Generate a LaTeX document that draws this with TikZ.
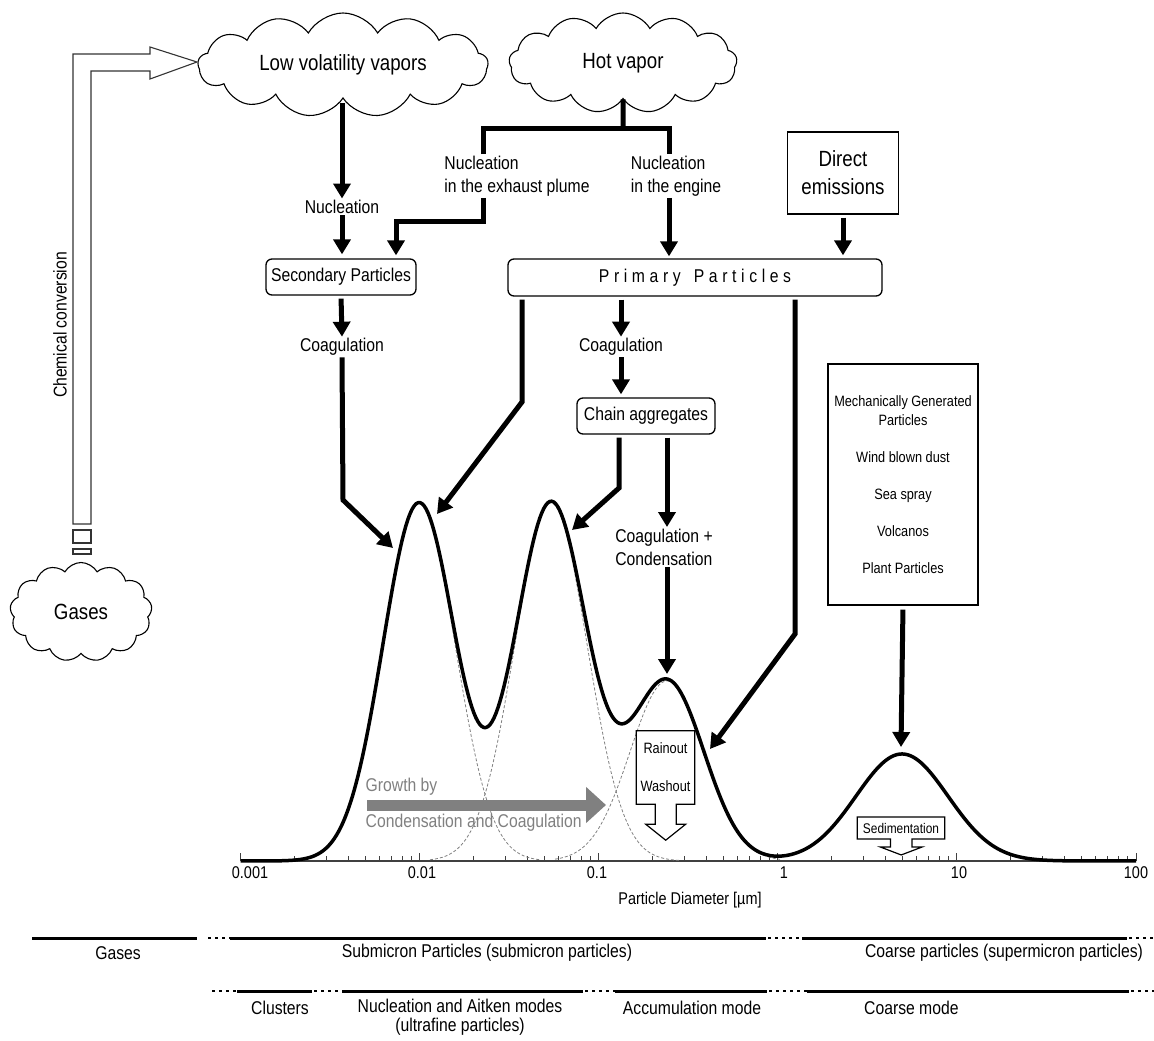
\documentclass[tikz,border=0pt]{standalone}
\usepackage{fontspec}
\setmainfont{Liberation Sans}[FakeStretch=0.85]
\usepackage{tikz}
\usetikzlibrary{arrows.meta,positioning,shapes.symbols}

\definecolor{growthgray}{RGB}{128,128,128}
\tikzset{
	cloudnode/.style={cloud,draw,line width=1.1pt,cloud puffs=13,cloud puff arc=120,cloud ignores aspect,inner sep=0pt,font=\fontsize{22}{26}\selectfont},
	lbl/.style={inner sep=1.5pt,align=left,font=\fontsize{18.5}{23}\selectfont},
	pbox/.style={draw,line width=1.3pt,rounded corners=6pt,minimum height=36pt,inner sep=2pt,font=\fontsize{18.5}{22}\selectfont},
	flow/.style={line width=5pt,-{Triangle[length=15pt,width=17pt]}},
	hotline/.style={line width=5pt},
	ticklbl/.style={inner sep=0pt,font=\fontsize{17}{20}\selectfont},
	bandtxt/.style={inner sep=0pt,align=center,font=\fontsize{18.5}{19}\selectfont},
	band/.style={line width=3pt},
	banddots/.style={line width=2.5pt,dash pattern=on 2.5pt off 4.5pt},
	mode/.style={gray,line width=0.8pt,dash pattern=on 3pt off 2pt}
}

\begin{document}
\begin{tikzpicture}[x=1pt,y=-1pt,
	declare function={gs(\u,\m,\s)=exp(-min(((\u-\m)/\s)*((\u-\m)/\s)/2,15));}]
	\useasboundingbox (0,0) rectangle (1154,1041);

	% sources
	\node[cloudnode,minimum width=290pt,minimum height=104pt] (lowvap) at (343,65) {Low volatility vapors};
	\node[cloudnode,minimum width=228pt,minimum height=100pt] (hotvap) at (623,63) {Hot vapor};
	\node[cloudnode,minimum width=142pt,minimum height=99pt] (gases) at (81,612) {Gases};
	\node[draw,line width=1.3pt,minimum width=111pt,minimum height=82pt,align=center,font=\fontsize{22}{28}\selectfont] (direct) at (843,173) {Direct\\emissions};

	% chemical conversion (hollow arrow)
	\draw[line width=1.1pt,black!80] (73,524) -- (73,54) -- (150,54) -- (150,47) -- (197,62) -- (150,79) -- (150,71) -- (91,71) -- (91,524) -- cycle;
	\draw[line width=1.1pt,black!80] (73,530) rectangle (91,543);
	\draw[line width=1.1pt,black!80] (73,549) rectangle (91,554);
	\node[rotate=90,inner sep=0pt,font=\fontsize{18.5}{20}\selectfont] (chem) at (60,325) {Chemical conversion};

	% labels and boxes
	\node[lbl] (nuc) at (342,207) {Nucleation};
	\node[lbl] (nucplume) at (517,176) {Nucleation\\in the exhaust plume};
	\node[lbl] (nucengine) at (676,176) {Nucleation\\in the engine};
	\node[pbox,minimum width=150pt] (secbox) at (341,277) {Secondary Particles};
	\node[pbox,minimum width=374pt,minimum height=37pt] (primbox) at (695,277.5) {\addfontfeature{LetterSpace=25}Primary\hspace{13pt}Particles};
	\node[lbl] (coagA) at (342,347) {Coagulation};
	\node[lbl] (coagB) at (621,347) {Coagulation};
	\node[pbox,minimum width=138pt] (chain) at (646,416) {Chain aggregates};
	\node[lbl] (coagcond) at (664,547) {Coagulation +\\Condensation};
	\node[draw,line width=1.2pt,minimum width=150pt,minimum height=241pt,align=center,font=\fontsize{15}{19}\selectfont] (mech) at (903,484.5) {Mechanically Generated\\Particles\\[18pt]Wind blown dust\\[18pt]Sea spray\\[18pt]Volcanos\\[18pt]Plant Particles};

	% bend points and tips at the curve
	\coordinate (hv) at (623,128);
	\coordinate (pl) at (396,221);
	\coordinate (bA) at (343,500);
	\coordinate (tA) at (393,548);
	\coordinate (bB) at (522,402);
	\coordinate (tB) at (437,514);
	\coordinate (bC) at (619,488);
	\coordinate (tC) at (572,530);
	\coordinate (bD) at (795,634);
	\coordinate (tD) at (710,749);
	\coordinate (pk3) at (667,674);
	\coordinate (pk4) at (901,747);

	% connectors
	\draw[flow,shorten <=4pt] (nuc.north |- lowvap.south) -- (nuc.north);
	\draw[flow,shorten >=4pt] (nuc.south) -- (nuc.south |- secbox.north);
	\draw[hotline] (hotvap.south) -- (hv);
	\draw[hotline] ([xshift=-34pt]nucplume.north) |- (hv) -| ([xshift=-7pt]nucengine.north);
	\draw[flow,shorten >=3pt] ([xshift=-34pt]nucplume.south) |- (pl) -- (pl |- secbox.north);
	\draw[flow,shorten >=2pt] ([xshift=-7pt]nucengine.south) -- ([xshift=-7pt]nucengine.south |- primbox.north);
	\draw[flow,shorten <=3pt,shorten >=3pt] (direct.south) -- (direct.south |- primbox.north);
	\draw[flow,shorten <=3pt] (secbox.south) -- (coagA.north);
	\draw[flow] (coagA.south) -- (bA) -- (tA);
	\draw[flow,shorten <=3pt] (bB |- primbox.south) -- (bB) -- (tB);
	\draw[flow,shorten <=3pt] (coagB.north |- primbox.south) -- (coagB.north);
	\draw[flow,shorten >=3pt] (coagB.south) -- (coagB.south |- chain.north);
	\draw[flow,shorten <=3pt] (bC |- chain.south) -- (bC) -- (tC);
	\draw[flow,shorten <=3pt] (pk3 |- chain.south) -- (pk3 |- coagcond.north);
	\draw[flow] (pk3 |- coagcond.south) -- (pk3);
	\draw[flow,shorten <=3pt] (bD |- primbox.south) -- (bD) -- (tD);
	\draw[flow,shorten <=4pt] (mech.south) -- (pk4);

	% size distribution
	\draw[line width=1.2pt,black!75] (240.6,861) -- (1136,861);
	\foreach \d in {0,...,4}{
		\draw[line width=1pt,black!75] (240.6+179*\d,861) -- ++(0,-8);
		\foreach \m in {2,...,9}
			\draw[line width=0.8pt,black!75] ({240.6+179*(\d+log10(\m))},861) -- ++(0,-5);
	}
	\draw[line width=1pt,black!75] (1136,861) -- ++(0,-8);
	\draw[mode] plot[domain=300:540,samples=120] (\x,{861-358*gs(\x,419,36)});
	\draw[mode] plot[domain=430:680,samples=120] (\x,{861-358*gs(\x,551,36)});
	\draw[mode] plot[domain=555:780,samples=120] (\x,{861-180*gs(\x,667,37)});
	\draw[line width=3.5pt,line join=round] plot[domain=240.6:1136,samples=450] (\x,{861-358*gs(\x,419,36)-358*gs(\x,551,36)-180*gs(\x,667,37)-107*gs(\x,902,46)});

	\foreach \v/\px in {0.001/250,0.01/422,0.1/597,1/784,10/959,100/1136}
		\node[ticklbl] at (\px,873) {\v};
	\node[ticklbl] (xlabel) at (690,900) {Particle Diameter [µm]};

	% growth arrow
	\draw[growthgray,line width=11pt,-{Triangle[length=20pt,width=35pt]}] (367,805) -- (606,805);
	\node[lbl,text=growthgray,anchor=west] (growA) at (364,787) {Growth by};
	\node[lbl,text=growthgray,anchor=west] (growB) at (364,823) {Condensation and Coagulation};

	% removal
	\node[inner sep=0pt,minimum width=58pt,minimum height=73pt,align=center,font=\fontsize{15}{38}\selectfont] (rain) at (665.5,767.5) {Rainout\\Washout};
	\draw[line width=1.2pt] (rain.south west) -- (rain.north west) -- (rain.north east) -- (rain.south east) -- ++(-18.5,0) -- ++(0,20) -- ++(9.5,0) -- ++(-20,16) -- ++(-20,-16) -- ++(9.5,0) -- ++(0,-20) -- cycle;
	\node[inner sep=0pt,minimum width=87pt,minimum height=21.5pt,font=\fontsize{14}{16}\selectfont] (sed) at (901,828) {Sedimentation};
	\draw[line width=1.2pt] (sed.south west) -- (sed.north west) -- (sed.north east) -- (sed.south east) -- ++(-32.75,0) -- ++(0,8) -- ++(10.25,0) -- ++(-21,8) -- ++(-21,-8) -- ++(10.25,0) -- ++(0,-8) -- cycle;

	% size ranges
	\draw[band] (32,938) -- (197,938);
	\draw[banddots] (208,938) -- (230,938);
	\draw[band] (230,938) -- (766,938);
	\draw[banddots] (768,938) -- (802,938);
	\draw[band] (802,938) -- (1127,938);
	\draw[banddots] (1129,938) -- (1154,938);
	\node[bandtxt] (gasrange) at (118,953) {Gases};
	\node[bandtxt] (subrange) at (487,953) {Submicron Particles (submicron particles)};
	\node[bandtxt] (coarserange) at (1004,953) {Coarse particles (supermicron particles)};

	\draw[banddots] (212,991) -- (237,991);
	\draw[band] (237,991) -- (312,991);
	\draw[banddots] (314,991) -- (342,991);
	\draw[band] (342,991) -- (583,991);
	\draw[banddots] (585,991) -- (615,991);
	\draw[band] (615,991) -- (767,991);
	\draw[banddots] (769,991) -- (807,991);
	\draw[band] (807,991) -- (1129,991);
	\draw[banddots] (1131,991) -- (1154,991);
	\node[bandtxt] (clusters) at (280,1008) {Clusters};
	\node[bandtxt,anchor=north] (aitken) at (460,999) {Nucleation and Aitken modes\\(ultrafine particles)};
	\node[bandtxt] (accum) at (692,1008) {Accumulation mode};
	\node[bandtxt,anchor=west] (coarsemode) at (864,1008) {Coarse mode};
\end{tikzpicture}
\end{document}
